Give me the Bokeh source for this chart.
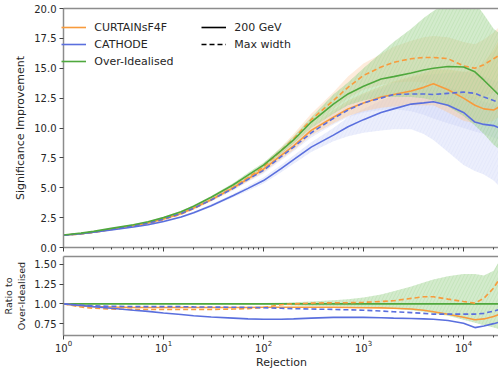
from bokeh.plotting import figure
from bokeh.models import (Legend, LegendItem, LogAxis, FixedTicker,
                          PrintfTickFormatter, Range1d)
from bokeh.layouts import column
from bokeh.embed import file_html
from bokeh.resources import INLINE

# ---------------- data ----------------
rejection = [1, 1.5, 2, 3, 5, 7, 10, 15, 20, 30, 50, 70, 100, 150, 200, 300, 500, 700,
             1000, 1500, 2000, 3000, 4000, 5000, 7000, 10000, 13000, 16000, 20000, 23000]

over_idealised = [1.05, 1.2, 1.35, 1.6, 1.9, 2.15, 2.5, 3.0, 3.45, 4.2, 5.25, 6.05, 6.9, 8.1,
                  9.0, 10.5, 12.0, 12.85, 13.5, 14.1, 14.3, 14.6, 14.85, 15.0, 15.15, 15.1,
                  14.7, 14.0, 13.2, 12.7]
over_idealised_lo = [1.03, 1.18, 1.32, 1.56, 1.85, 2.1, 2.44, 2.93, 3.37, 4.1, 5.1, 5.85, 6.7,
                     7.85, 8.7, 10.0, 11.2, 11.9, 12.3, 12.6, 12.6, 12.6, 12.5, 12.3, 11.8,
                     11.0, 10.2, 9.5, 8.6, 8.2]
over_idealised_hi = [1.07, 1.22, 1.38, 1.64, 1.95, 2.2, 2.56, 3.07, 3.53, 4.3, 5.4, 6.25, 7.1,
                     8.35, 9.3, 10.9, 12.8, 13.8, 15.0, 16.3, 17.2, 18.3, 19.2, 19.8, 20.5,
                     20.5, 20.5, 19.5, 18.3, 17.9]

curtains_200 = [1.03, 1.17, 1.3, 1.53, 1.82, 2.05, 2.38, 2.85, 3.3, 4.0, 5.0, 5.75, 6.55, 7.7,
                8.5, 9.8, 10.9, 11.6, 12.1, 12.6, 12.8, 13.1, 13.4, 13.7, 13.2, 12.5, 11.9,
                11.6, 11.5, 11.8]
curtains_200_lo = [1.01, 1.15, 1.27, 1.5, 1.78, 2.0, 2.32, 2.78, 3.21, 3.9, 4.85, 5.55, 6.3,
                   7.4, 8.15, 9.4, 10.4, 11.0, 11.4, 11.7, 11.8, 11.9, 11.9, 11.9, 11.3, 10.6,
                   10.4, 10.4, 10.6, 11.0]
curtains_200_hi = [1.05, 1.19, 1.33, 1.56, 1.86, 2.1, 2.44, 2.92, 3.39, 4.1, 5.15, 5.95, 6.8,
                   8.0, 8.85, 10.2, 11.5, 12.3, 12.9, 13.5, 13.9, 14.3, 14.6, 14.9, 14.9, 14.7,
                   14.8, 15.5, 16.5, 17.5]

curtains_max = [1.02, 1.13, 1.26, 1.5, 1.78, 2.0, 2.33, 2.8, 3.25, 4.0, 5.05, 5.85, 6.75, 8.1,
                9.1, 10.7, 12.3, 13.4, 14.4, 15.1, 15.5, 15.8, 15.9, 15.9, 15.8, 15.2, 15.0,
                15.3, 15.8, 16.1]
curtains_max_lo = [1.0, 1.11, 1.23, 1.46, 1.73, 1.94, 2.26, 2.72, 3.15, 3.88, 4.9, 5.65, 6.5,
                   7.8, 8.7, 10.2, 11.6, 12.5, 13.2, 13.6, 13.8, 13.9, 13.8, 13.6, 13.2, 12.6,
                   12.4, 12.6, 13.0, 13.4]
curtains_max_hi = [1.04, 1.15, 1.29, 1.54, 1.83, 2.06, 2.4, 2.88, 3.35, 4.12, 5.2, 6.05, 7.0,
                   8.4, 9.5, 11.2, 13.0, 14.3, 15.4, 16.2, 16.8, 17.3, 17.6, 17.7, 17.6, 17.2,
                   17.0, 17.4, 18.0, 18.5]

cathode_200 = [1.03, 1.15, 1.27, 1.47, 1.72, 1.9, 2.17, 2.55, 2.9, 3.5, 4.35, 4.95, 5.6, 6.6,
               7.35, 8.4, 9.4, 10.1, 10.7, 11.3, 11.6, 12.0, 12.1, 12.2, 11.9, 11.3, 10.5,
               10.3, 10.2, 10.0]
cathode_200_lo = [1.01, 1.13, 1.24, 1.43, 1.67, 1.84, 2.1, 2.47, 2.8, 3.38, 4.2, 4.75, 5.35,
                  6.3, 7.0, 8.0, 8.9, 9.3, 9.6, 9.8, 9.9, 9.9, 9.5, 9.0, 8.0, 6.9, 6.4, 6.1,
                  5.6, 5.1]
cathode_200_hi = [1.05, 1.17, 1.3, 1.51, 1.77, 1.96, 2.24, 2.63, 3.0, 3.62, 4.5, 5.15, 5.85,
                  6.9, 7.7, 8.8, 10.0, 10.9, 11.6, 12.3, 12.7, 13.2, 13.4, 13.5, 13.4, 13.0,
                  12.5, 12.2, 12.0, 11.8]

cathode_max = [1.03, 1.17, 1.3, 1.53, 1.83, 2.05, 2.38, 2.85, 3.28, 3.98, 4.95, 5.7, 6.45, 7.6,
               8.4, 9.6, 10.8, 11.5, 12.1, 12.5, 12.8, 12.85, 12.85, 12.8, 12.9, 13.0, 12.9,
               12.6, 12.3, 12.1]
cathode_max_lo = [1.01, 1.15, 1.27, 1.49, 1.78, 1.99, 2.3, 2.76, 3.17, 3.85, 4.78, 5.5, 6.2,
                  7.3, 8.05, 9.2, 10.3, 10.9, 11.3, 11.5, 11.6, 11.4, 11.1, 10.8, 10.4, 10.0,
                  9.7, 9.5, 9.2, 9.0]
cathode_max_hi = [1.05, 1.19, 1.33, 1.57, 1.88, 2.11, 2.46, 2.94, 3.39, 4.11, 5.12, 5.9, 6.7,
                  7.9, 8.75, 10.0, 11.3, 12.1, 12.8, 13.3, 13.8, 14.2, 14.4, 14.5, 14.6, 14.7,
                  14.6, 14.3, 14.0, 13.8]

# ratio panel
ratio_over_idealised = [1.0] * len(rejection)
ratio_over_idealised_lo = [1.0, 0.995, 0.995, 0.995, 0.995, 0.995, 0.995, 0.995, 0.994, 0.993,
                           0.992, 0.99, 0.988, 0.985, 0.98, 0.975, 0.97, 0.965, 0.96, 0.95,
                           0.94, 0.92, 0.9, 0.88, 0.85, 0.8, 0.76, 0.73, 0.7, 0.68]
ratio_over_idealised_hi = [1.0, 1.005, 1.005, 1.005, 1.005, 1.005, 1.005, 1.005, 1.006, 1.007,
                           1.008, 1.01, 1.012, 1.015, 1.02, 1.03, 1.045, 1.06, 1.08, 1.12,
                           1.16, 1.22, 1.27, 1.31, 1.35, 1.38, 1.38, 1.36, 1.42, 1.55]
ratio_curtains_200 = [1.0, 0.975, 0.965, 0.96, 0.955, 0.955, 0.955, 0.955, 0.955, 0.955, 0.955,
                      0.955, 0.957, 0.958, 0.958, 0.958, 0.957, 0.955, 0.952, 0.95, 0.945,
                      0.935, 0.92, 0.9, 0.87, 0.83, 0.8, 0.81, 0.84, 0.87]
ratio_curtains_max = [1.0, 0.96, 0.945, 0.935, 0.93, 0.93, 0.93, 0.93, 0.93, 0.93, 0.935, 0.94,
                      0.955, 0.99, 1.0, 1.01, 1.015, 1.015, 1.02, 1.03, 1.04, 1.07, 1.09,
                      1.09, 1.06, 1.03, 1.01, 1.07, 1.2, 1.32]
ratio_cathode_200 = [1.0, 0.98, 0.965, 0.945, 0.92, 0.905, 0.885, 0.865, 0.85, 0.835, 0.82,
                     0.81, 0.805, 0.805, 0.81, 0.82, 0.83, 0.83, 0.83, 0.825, 0.82, 0.815,
                     0.81, 0.805, 0.79, 0.755, 0.7, 0.72, 0.75, 0.77]
ratio_cathode_max = [1.0, 0.985, 0.975, 0.97, 0.965, 0.965, 0.965, 0.965, 0.962, 0.96, 0.958,
                     0.955, 0.952, 0.945, 0.94, 0.935, 0.93, 0.925, 0.92, 0.91, 0.9, 0.89,
                     0.88, 0.87, 0.87, 0.87, 0.87, 0.88, 0.91, 0.93]

y_ticks_top = [0, 2.5, 5, 7.5, 10, 12.5, 15, 17.5, 20]
y_ticks_ratio = [0.75, 1.0, 1.25, 1.5]

# ---------------- styling ----------------
FONT = "DejaVu Sans"
ORANGE = "#f89b3c"
BLUE = "#5a6fde"
GREEN = "#4fa83d"
SPINE = "#8c8c8c"
TICK = "#444444"
TEXT = "#262626"
LW = 1.6
DASH = "5 3"
X_MAX = 22909
LEFT = 62
FRAME_W = 436


def style_axis(ax, label_size="10px"):
    ax.axis_line_color = SPINE
    ax.axis_line_width = 1.5
    ax.major_tick_line_color = TICK
    ax.minor_tick_line_color = TICK
    ax.major_tick_in = 0
    ax.major_tick_out = 4
    ax.minor_tick_in = 0
    ax.minor_tick_out = 2
    ax.major_label_text_font = FONT
    ax.major_label_text_font_size = label_size
    ax.major_label_text_color = TEXT
    ax.axis_label_text_font = FONT
    ax.axis_label_text_font_size = "11px"
    ax.axis_label_text_font_style = "normal"
    ax.axis_label_text_color = TEXT


def hide_labels(ax):
    ax.major_label_text_font_size = "1px"
    ax.major_label_text_color = None
    ax.major_label_standoff = 0


def top_spine(p):
    ax = LogAxis()
    ax.axis_line_color = SPINE
    ax.axis_line_width = 1.5
    ax.major_tick_line_color = None
    ax.minor_tick_line_color = None
    ax.major_tick_out = 0
    ax.minor_tick_out = 0
    hide_labels(ax)
    p.add_layout(ax, "above")


def bands(p, x, lo, hi, color, alpha, hatch=None, hatch_alpha=0.0):
    kw = dict(fill_color=color, fill_alpha=alpha)
    if hatch:
        kw.update(hatch_pattern=hatch, hatch_color=color, hatch_alpha=hatch_alpha,
                  hatch_scale=7, hatch_weight=0.8)
    p.varea(x=x, y1=lo, y2=hi, **kw)


# ---------------- top panel ----------------
p1 = figure(frame_width=FRAME_W, frame_height=239, x_axis_type="log",
            x_range=Range1d(1, X_MAX), y_range=Range1d(0, 20),
            min_border_left=LEFT, min_border_right=0, min_border_top=8, min_border_bottom=6,
            output_backend="svg", toolbar_location=None)
p1.outline_line_color = None
p1.grid.visible = False

bands(p1, rejection, cathode_200_lo, cathode_200_hi, "#c7cdf5", 0.35, "/", 0.25)
bands(p1, rejection, cathode_max_lo, cathode_max_hi, "#c7cdf5", 0.3, "/", 0.2)
bands(p1, rejection, curtains_200_lo, curtains_200_hi, "#fbc99a", 0.45)
bands(p1, rejection, curtains_max_lo, curtains_max_hi, "#fbc99a", 0.35)
bands(p1, rejection, over_idealised_lo, over_idealised_hi, "#9ed28e", 0.45, "/", 0.35)

r_os = p1.line(rejection, curtains_200, line_color=ORANGE, line_width=LW)
r_od = p1.line(rejection, curtains_max, line_color=ORANGE, line_width=LW, line_dash=DASH)
r_bs = p1.line(rejection, cathode_200, line_color=BLUE, line_width=LW)
r_bd = p1.line(rejection, cathode_max, line_color=BLUE, line_width=LW, line_dash=DASH)
r_g = p1.line(rejection, over_idealised, line_color=GREEN, line_width=LW)
# legend proxies for the line styles (drawn with no visible data)
r_solid = p1.line(x=[float("nan")], y=[float("nan")], line_color="black", line_width=LW)
r_dash = p1.line(x=[float("nan")], y=[float("nan")], line_color="black", line_width=LW,
                 line_dash=DASH)

style_axis(p1.xaxis[0])
style_axis(p1.yaxis[0])
hide_labels(p1.xaxis[0])
p1.yaxis[0].ticker = FixedTicker(ticks=y_ticks_top)
p1.yaxis[0].formatter = PrintfTickFormatter(format="%.1f")
p1.yaxis[0].major_label_standoff = 3
p1.yaxis[0].axis_label = "Significance Improvement"
p1.yaxis[0].axis_label_standoff = 4
top_spine(p1)


def make_legend(items, loc):
    leg = Legend(items=items, location=loc)
    leg.label_text_font = FONT
    leg.label_text_font_size = "11px"
    leg.label_text_color = TEXT
    leg.glyph_width = 25
    leg.glyph_height = 14
    leg.label_height = 14
    leg.label_standoff = 8
    leg.spacing = 3
    leg.padding = 4
    leg.margin = 0
    leg.background_fill_alpha = 0
    leg.border_line_color = None
    return leg


leg1 = make_legend([LegendItem(label="CURTAINsF4F", renderers=[r_os]),
                    LegendItem(label="CATHODE", renderers=[r_bs]),
                    LegendItem(label="Over-Idealised", renderers=[r_g])], (6, 179))
leg2 = make_legend([LegendItem(label="200 GeV", renderers=[r_solid]),
                    LegendItem(label="Max width", renderers=[r_dash])], (146, 196))
p1.add_layout(leg1)
p1.add_layout(leg2)

# ---------------- ratio panel ----------------
p2 = figure(frame_width=FRAME_W, frame_height=79, x_axis_type="log",
            x_range=p1.x_range, y_range=Range1d(0.6, 1.6),
            min_border_left=LEFT, min_border_right=0, min_border_top=3, min_border_bottom=0,
            output_backend="svg", toolbar_location=None)
p2.outline_line_color = None
p2.grid.visible = False

bands(p2, rejection, ratio_over_idealised_lo, ratio_over_idealised_hi, "#9ed28e", 0.45, "/", 0.35)
p2.line(rejection, ratio_over_idealised, line_color=GREEN, line_width=LW)
p2.line(rejection, ratio_curtains_200, line_color=ORANGE, line_width=LW)
p2.line(rejection, ratio_curtains_max, line_color=ORANGE, line_width=LW, line_dash=DASH)
p2.line(rejection, ratio_cathode_200, line_color=BLUE, line_width=LW)
p2.line(rejection, ratio_cathode_max, line_color=BLUE, line_width=LW, line_dash=DASH)

style_axis(p2.xaxis[0])
style_axis(p2.yaxis[0])
p2.xaxis[0].axis_label = "Rejection"
p2.xaxis[0].major_label_standoff = 0
p2.xaxis[0].axis_label_standoff = 1
p2.yaxis[0].ticker = FixedTicker(ticks=y_ticks_ratio)
p2.yaxis[0].formatter = PrintfTickFormatter(format="%.2f")
p2.yaxis[0].major_label_standoff = 3
p2.yaxis[0].axis_label = "Ratio to\nOver-Idealised"
p2.yaxis[0].axis_label_text_font_size = "9.5px"
p2.yaxis[0].axis_label_standoff = 4
top_spine(p2)

layout = column(p1, p2, spacing=0)
open("out.html", "w").write(file_html(layout, INLINE))
